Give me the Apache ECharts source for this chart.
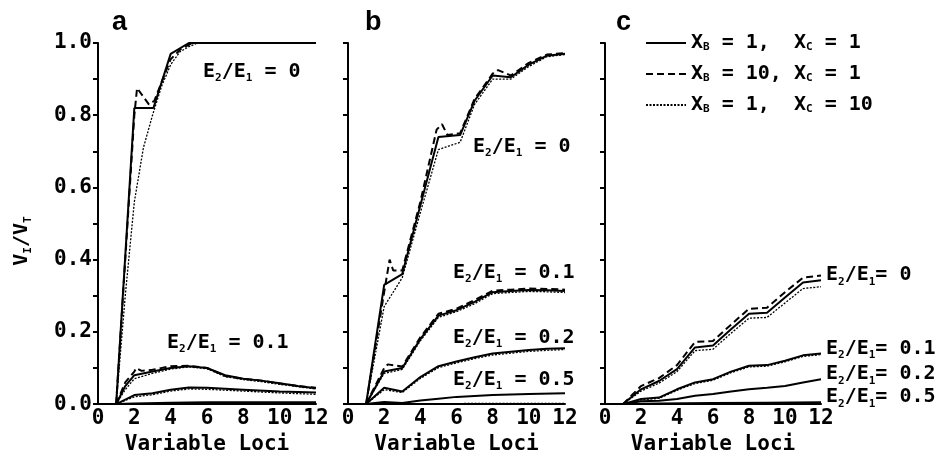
<!DOCTYPE html>
<html>
<head>
<meta charset="utf-8">
<script src="https://cdn.jsdelivr.net/npm/echarts@6/dist/echarts.min.js"></script>
<style>
  html, body { margin: 0; padding: 0; background: #fff; }
  #myChart { width: 949px; height: 460px; }
</style>
</head>
<body>
<div id="myChart"></div>
<script>
let myChart = echarts.init(document.getElementById('myChart'));

const FONT = 'DejaVu Sans Mono';

// legend names: solid = XB 1 / XC 1, dashed = XB 10 / XC 1, dotted = XB 1 / XC 10
const NAMES = ['XB1_XC1', 'XB10_XC1', 'XB1_XC10'];

// panel a
const A0_SOLID = [[1, 0], [2, 0.82], [3.05, 0.82], [4, 0.97], [5, 1.0], [12, 1.0]];
const A0_DASH = [[1, 0], [2, 0.8], [2.15, 0.875], [2.8, 0.83], [3.1, 0.84], [4, 0.955], [4.6, 0.985], [5.2, 1.0], [12, 1.0]];
const A0_DOT = [[1, 0], [1.5, 0.3], [2, 0.56], [2.5, 0.71], [3, 0.8], [3.5, 0.88], [4, 0.94], [4.5, 0.975], [5, 0.99], [5.5, 1.0], [12, 1.0]];
const A1_SOLID = [[1, 0], [1.5, 0.05], [2, 0.08], [3, 0.09], [4, 0.1], [5, 0.105], [6, 0.1], [7, 0.08], [8, 0.07], [9, 0.065], [10, 0.058], [11, 0.05], [12, 0.044]];
const A1_DASH = [[1, 0], [1.5, 0.06], [2, 0.09], [2.1, 0.1], [2.4, 0.092], [3, 0.095], [4, 0.105], [5, 0.106], [6, 0.1], [7, 0.078], [8, 0.07], [9, 0.065], [10, 0.057], [11, 0.05], [12, 0.045]];
const A1_DOT = [[1, 0], [1.5, 0.04], [2, 0.07], [3, 0.085], [4, 0.097], [5, 0.103], [6, 0.098], [7, 0.076], [8, 0.068], [9, 0.062], [10, 0.055], [11, 0.048], [12, 0.042]];
const A2_SOLID = [[1, 0], [2, 0.025], [3, 0.03], [4, 0.04], [5, 0.046], [6, 0.045], [8, 0.04], [10, 0.035], [12, 0.032]];
const A2_DOT = [[1, 0], [2, 0.02], [3, 0.026], [4, 0.036], [5, 0.042], [6, 0.041], [8, 0.036], [10, 0.031], [12, 0.027]];
const A5_SOLID = [[1, 0], [2, 0.002], [4, 0.004], [6, 0.005], [8, 0.005], [12, 0.005]];

// panel b
const B0_SOLID = [[1, 0], [2, 0.33], [3, 0.36], [4, 0.55], [5, 0.74], [6.2, 0.745], [7, 0.84], [8, 0.91], [9, 0.905], [10, 0.94], [11, 0.965], [12, 0.97]];
const B0_DASH = [[1, 0], [2, 0.31], [2.3, 0.4], [2.5, 0.37], [3, 0.37], [4, 0.56], [4.9, 0.76], [5.2, 0.775], [5.5, 0.745], [6.2, 0.75], [7, 0.845], [8, 0.915], [8.3, 0.925], [9, 0.91], [10, 0.945], [11, 0.968], [12, 0.972]];
const B0_DOT = [[1, 0], [2, 0.27], [3, 0.35], [4, 0.53], [5, 0.705], [6.2, 0.725], [7, 0.83], [8, 0.9], [9, 0.9], [10, 0.935], [11, 0.962], [12, 0.968]];
const B1_SOLID = [[1, 0], [2, 0.09], [3, 0.1], [4, 0.18], [5, 0.245], [6, 0.26], [7, 0.283], [8, 0.31], [9, 0.313], [10, 0.316], [11, 0.315], [12, 0.313]];
const B1_DASH = [[1, 0], [2, 0.1], [2.2, 0.11], [3, 0.104], [4, 0.185], [5, 0.25], [6, 0.264], [7, 0.288], [8, 0.314], [9, 0.317], [10, 0.32], [11, 0.319], [12, 0.317]];
const B1_DOT = [[1, 0], [2, 0.085], [3, 0.096], [4, 0.175], [5, 0.24], [6, 0.256], [7, 0.278], [8, 0.306], [9, 0.309], [10, 0.312], [11, 0.311], [12, 0.309]];
const B2_SOLID = [[1, 0], [2, 0.045], [3, 0.035], [4, 0.075], [5, 0.105], [6, 0.118], [7, 0.13], [8, 0.14], [9, 0.145], [10, 0.15], [11, 0.153], [12, 0.155]];
const B2_DOT = [[1, 0], [2, 0.04], [3, 0.032], [4, 0.071], [5, 0.101], [6, 0.114], [7, 0.126], [8, 0.136], [9, 0.141], [10, 0.146], [11, 0.149], [12, 0.151]];
const B5_SOLID = [[1, 0], [2, 0.006], [3, 0.003], [4, 0.01], [5, 0.015], [6, 0.02], [8, 0.025], [10, 0.028], [12, 0.03]];
const B5_DOT = [[1, 0], [4, 0.001], [8, 0.002], [12, 0.002]];

// panel c
const C0_SOLID = [[1, 0], [2, 0.041], [3, 0.064], [4, 0.097], [5, 0.157], [6, 0.162], [7, 0.207], [8, 0.25], [9, 0.253], [10, 0.295], [11, 0.337], [12, 0.343]];
const C0_DASH = [[1, 0], [2, 0.05], [3, 0.072], [4, 0.108], [5, 0.172], [6, 0.175], [7, 0.22], [8, 0.264], [9, 0.267], [10, 0.31], [11, 0.35], [12, 0.356]];
const C0_DOT = [[1, 0], [2, 0.036], [3, 0.058], [4, 0.09], [5, 0.148], [6, 0.152], [7, 0.196], [8, 0.238], [9, 0.24], [10, 0.28], [11, 0.32], [12, 0.325]];
const C1_SOLID = [[1, 0], [2, 0.014], [3, 0.018], [4, 0.041], [5, 0.06], [6, 0.069], [7, 0.09], [8, 0.106], [9, 0.108], [10, 0.12], [11, 0.135], [12, 0.14]];
const C1_DOT = [[1, 0], [2, 0.012], [3, 0.016], [4, 0.038], [5, 0.057], [6, 0.066], [7, 0.087], [8, 0.103], [9, 0.105], [10, 0.117], [11, 0.132], [12, 0.137]];
const C2_SOLID = [[1, 0], [2, 0.008], [3, 0.009], [4, 0.014], [5, 0.023], [6, 0.028], [7, 0.035], [8, 0.041], [9, 0.045], [10, 0.05], [11, 0.06], [12, 0.069]];
const C5_SOLID = [[1, 0], [3, 0.002], [6, 0.003], [9, 0.004], [12, 0.005]];

const LABEL_VALUES_A = ['0', '0.1'];
const LABEL_VALUES_B = ['0', '0.1', '0.2', '0.5'];
const LABEL_VALUES_C = ['0', '0.1', '0.2', '0.5'];

const RICH = {
  t: { fontFamily: FONT, fontWeight: 'bold', fontSize: 20, color: '#000', lineHeight: 24, verticalAlign: 'middle' },
  s: { fontFamily: FONT, fontWeight: 'bold', fontSize: 11, color: '#000', lineHeight: 12, verticalAlign: 'bottom' }
};

function eLabel(v, tight) {
  return '{t|E}{s|2}{t|/E}{s|1}{t|' + (tight ? '= ' : ' = ') + v + '}';
}

const STYLES = [
  { type: 'solid', width: 2 },
  { type: [7, 4], width: 2 },
  { type: [2, 1.5], width: 1.3 }
];

function line(grid, kind, data, extra) {
  return Object.assign({
    name: NAMES[kind],
    type: 'line',
    xAxisIndex: grid,
    yAxisIndex: grid,
    data: data,
    symbol: 'none',
    silent: true,
    animation: false,
    lineStyle: Object.assign({ color: '#000' }, STYLES[kind]),
    itemStyle: { color: '#000' }
  }, extra || {});
}

function cEnd(v) {
  return {
    endLabel: {
      show: true,
      distance: 5,
      offset: [0, -5],
      formatter: function () { return eLabel(v, true); },
      rich: RICH
    }
  };
}

const series = [
  line(0, 0, A0_SOLID), line(0, 1, A0_DASH), line(0, 2, A0_DOT),
  line(0, 0, A1_SOLID), line(0, 1, A1_DASH), line(0, 2, A1_DOT),
  line(0, 0, A2_SOLID), line(0, 2, A2_DOT), line(0, 0, A5_SOLID),

  line(1, 0, B0_SOLID), line(1, 1, B0_DASH), line(1, 2, B0_DOT),
  line(1, 0, B1_SOLID), line(1, 1, B1_DASH), line(1, 2, B1_DOT),
  line(1, 0, B2_SOLID), line(1, 2, B2_DOT),
  line(1, 0, B5_SOLID), line(1, 2, B5_DOT),

  line(2, 1, C0_DASH), line(2, 2, C0_DOT), line(2, 0, C0_SOLID, cEnd(LABEL_VALUES_C[0])),
  line(2, 0, C1_SOLID, cEnd(LABEL_VALUES_C[1])), line(2, 2, C1_DOT),
  line(2, 0, C2_SOLID, cEnd(LABEL_VALUES_C[2])),
  line(2, 0, C5_SOLID, cEnd(LABEL_VALUES_C[3]))
];

const grids = [
  { left: 98, top: 43, width: 218, height: 362 },
  { left: 348, top: 43, width: 217, height: 362 },
  { left: 605, top: 43, width: 216, height: 362 }
];

const axisLine = { show: true, onZero: false, lineStyle: { color: '#000', width: 2 } };

const xAxes = grids.map(function (g, i) {
  return {
    type: 'value', gridIndex: i, min: 0, max: 12, interval: 2,
    axisLine: axisLine,
    axisTick: { show: false },
    splitLine: { show: false },
    axisLabel: { color: '#000', fontFamily: FONT, fontWeight: 'bold', fontSize: 21, margin: 4 },
    name: 'Variable Loci',
    nameLocation: 'middle',
    nameGap: 28,
    nameTextStyle: { color: '#000', fontFamily: FONT, fontWeight: 'bold', fontSize: 21 }
  };
});

const yAxes = grids.map(function (g, i) {
  return {
    type: 'value', gridIndex: i, min: 0, max: 1, interval: 0.1,
    axisLine: axisLine,
    axisTick: { show: true, length: 5, lineStyle: { color: '#000', width: 2 } },
    splitLine: { show: false },
    axisLabel: {
      show: i === 0,
      color: '#000', fontFamily: FONT, fontWeight: 'bold', fontSize: 21, margin: 6,
      formatter: function (v) {
        return Math.round(v * 10) % 2 === 0 ? v.toFixed(1) : '';
      }
    }
  };
});

function textEl(x, y, text) {
  return {
    type: 'text', x: x, y: y, silent: true,
    style: { text: text, rich: RICH, verticalAlign: 'middle', align: 'left' }
  };
}

let myChartOption = {
  backgroundColor: '#fff',
  animation: false,
  title: [
    { text: 'a', left: 107, top: 4 },
    { text: 'b', left: 360, top: 4 },
    { text: 'c', left: 611, top: 4 }
  ].map(function (t) {
    t.textStyle = { fontFamily: 'Liberation Sans', fontWeight: 'bold', fontSize: 27, color: '#000' };
    return t;
  }),
  legend: {
    orient: 'vertical',
    left: 640,
    top: 28,
    itemWidth: 40,
    itemHeight: 14,
    itemGap: 11,
    selectedMode: false,
    data: NAMES,
    itemStyle: { color: 'rgba(0,0,0,0)', borderColor: 'rgba(0,0,0,0)', borderWidth: 0 },
    textStyle: {
      color: '#000', fontFamily: FONT, fontWeight: 'bold', fontSize: 20,
      rich: {
        s: { fontFamily: FONT, fontWeight: 'bold', fontSize: 11, color: '#000', lineHeight: 12, verticalAlign: 'bottom' }
      }
    },
    formatter: function (name) {
      if (name === 'XB1_XC1') return 'X{s|B} = 1,  X{s|C} = 1';
      if (name === 'XB10_XC1') return 'X{s|B} = 10, X{s|C} = 1';
      return 'X{s|B} = 1,  X{s|C} = 10';
    }
  },
  grid: grids,
  xAxis: xAxes,
  yAxis: yAxes,
  graphic: [
    {
      type: 'text', x: 22, y: 241, rotation: Math.PI / 2, silent: true,
      style: { text: '{t|V}{s|I}{t|/V}{s|T}', rich: RICH, align: 'center', verticalAlign: 'middle' }
    },
    textEl(203, 72, eLabel(LABEL_VALUES_A[0])),
    textEl(167, 343, eLabel(LABEL_VALUES_A[1])),
    textEl(473, 147, eLabel(LABEL_VALUES_B[0])),
    textEl(453, 273, eLabel(LABEL_VALUES_B[1])),
    textEl(453, 338, eLabel(LABEL_VALUES_B[2])),
    textEl(453, 380, eLabel(LABEL_VALUES_B[3]))
  ],
  series: series
};

myChart.setOption(myChartOption);
</script>
</body>
</html>
